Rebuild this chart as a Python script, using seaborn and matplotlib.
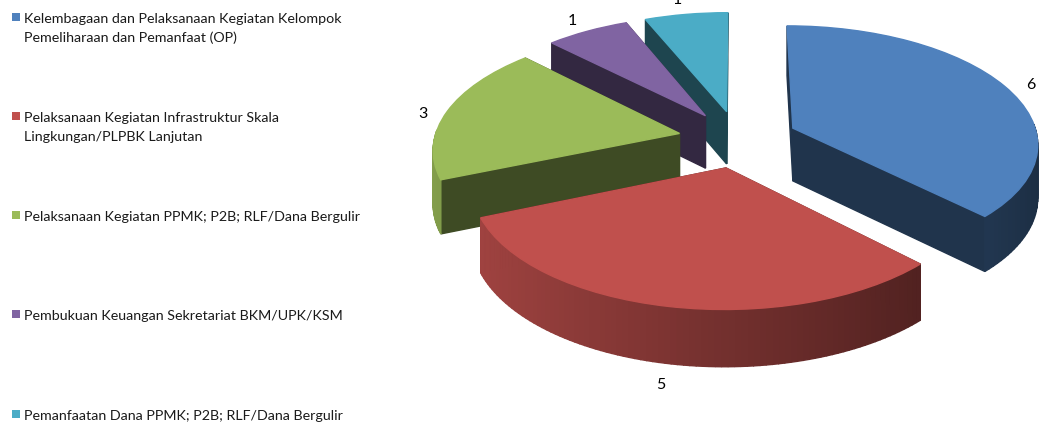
import numpy as np
import matplotlib
matplotlib.use("Agg")
import matplotlib.pyplot as plt
import seaborn as sns
from matplotlib.transforms import Transform

# --- Data ---
categories = [
    "Kelembagaan dan Pelaksanaan Kegiatan Kelompok\nPemeliharaan dan Pemanfaat (OP)",
    "Pelaksanaan Kegiatan Infrastruktur Skala\nLingkungan/PLPBK Lanjutan",
    "Pelaksanaan Kegiatan PPMK; P2B; RLF/Dana Bergulir",
    "Pembukuan Keuangan Sekretariat BKM/UPK/KSM",
    "Pemanfaatan Dana PPMK; P2B; RLF/Dana Bergulir",
]
values = [6, 5, 3, 1, 1]
colors = ["#4F81BD", "#C0504D", "#9BBB59", "#8064A2", "#4BACC6"]

# --- Layout (figure pixels) ---
CX, CY = 738, 140
SX, SY = 245, 117
PERSP = 0.12
DEPTH = 53
EXPLODE = 0.245
value_label_xy = [(1031, 85), (661, 385), (423, 114), (572, 21), (677, 0)]
legend_y = [18, 117, 216, 315, 415]
paint_order = [4, 3, 2, 0, 1]  # back slices first


class Tilt(Transform):
    # lays the flat pie on a tilted plane, z is how far below the top face
    input_dims = output_dims = 2

    def __init__(self, z=0.0):
        super().__init__()
        self.z = z

    def transform_non_affine(self, values):
        u, v = values[:, 0], values[:, 1]
        w = 1 + PERSP * v
        x = CX + SX * u / w
        y = CY - SY * v / w + self.z * DEPTH / (1 + 0.5 * PERSP * v)
        return np.column_stack([x, y])


def shaded(color, factor):
    return tuple(c * factor for c in matplotlib.colors.to_rgb(color))


def draw_walls(ax, wedge, color, zorder):
    top, bottom = Tilt(0), Tilt(1)
    cx0, cy0 = wedge.center
    angles = np.radians(np.linspace(wedge.theta1, wedge.theta2, 90))
    arc = np.column_stack([cx0 + wedge.r * np.cos(angles), cy0 + wedge.r * np.sin(angles)])
    apex = np.array([[cx0, cy0]])

    quads = []
    for a, b, in [(apex[0], arc[0]), (apex[0], arc[-1])]:
        quads.append((np.array([a, b]), 0.40))
    for i in range(len(arc) - 1):
        mid = 0.5 * (angles[i] + angles[i + 1])
        # back part of the rim is hidden behind the top face
        if np.sin(mid) > 0.03:
            continue
        quads.append((arc[i:i + 2], 0.60 - 0.25 * np.cos(mid)))

    quads.sort(key=lambda q: -q[0][:, 1].mean())
    for seg, factor in quads:
        t, b = top.transform(seg), bottom.transform(seg)
        poly = np.vstack([t, b[::-1]])
        c = shaded(color, factor)
        ax.fill(poly[:, 0], poly[:, 1], color=c, lw=1.0, zorder=zorder)


def main():
    sns.set_theme(style="white")
    plt.rcParams["font.family"] = ["Lato", "DejaVu Sans"]
    palette = sns.color_palette(colors)

    fig = plt.figure(figsize=(10.39, 4.27), dpi=100)
    ax = fig.add_axes([0, 0, 1, 1])

    wedges, _ = ax.pie(
        values, colors=palette, explode=[EXPLODE] * len(values),
        startangle=90, counterclock=False, radius=1,
    )
    ax.set_aspect("auto")
    ax.set_xlim(0, 1039)
    ax.set_ylim(427, 0)
    ax.axis("off")

    for rank, i in enumerate(paint_order):
        draw_walls(ax, wedges[i], palette[i], zorder=3 + rank)
        wedges[i].set_transform(Tilt(0) + ax.transData)
        wedges[i].set_zorder(3.5 + rank)
        wedges[i].set_edgecolor(palette[i])
        wedges[i].set_linewidth(1.0)

    for val, (x, y) in zip(values, value_label_xy):
        ax.text(x, y, str(val), fontsize=11.5, color="black", ha="center", va="center", zorder=20)

    # legend squares + text
    for label, y, c in zip(categories, legend_y, palette):
        ax.scatter([15.5], [y], marker="s", s=38, color=c, linewidths=0, zorder=20)
        ax.text(24, y + 1, label.split("\n")[0], fontsize=10.3, color="#1a1a1a", va="center", ha="left")
        if "\n" in label:
            ax.text(24, y + 20, label.split("\n")[1], fontsize=10.3, color="#1a1a1a", va="center", ha="left")

    fig.savefig("out.png", dpi=100)


if __name__ == "__main__":
    main()
